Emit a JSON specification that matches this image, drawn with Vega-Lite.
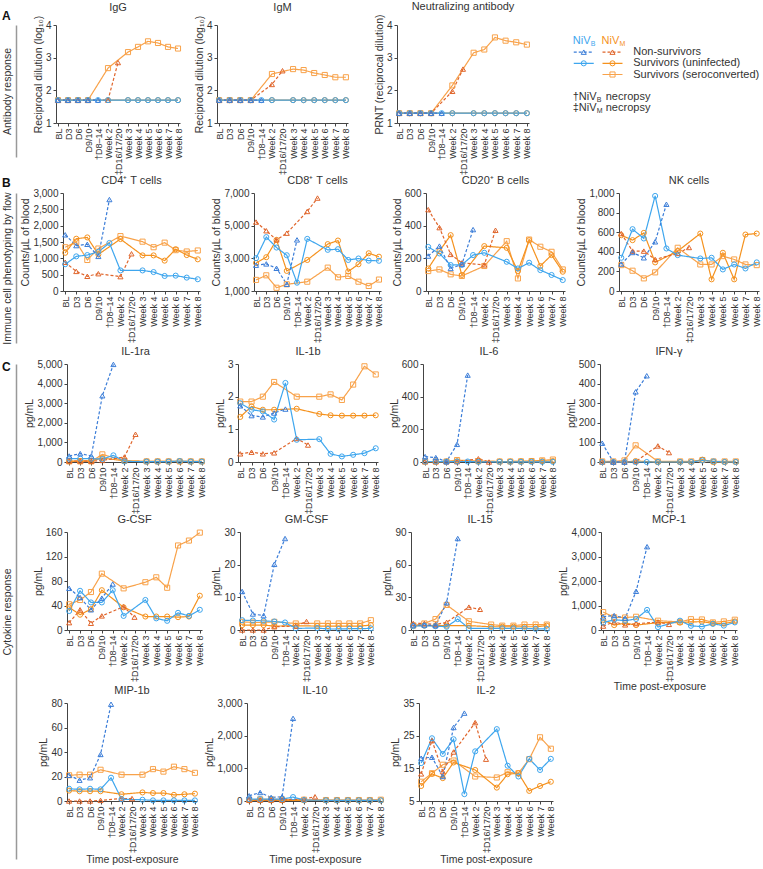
{
"$schema":"https://vega.github.io/schema/vega-lite/v6.json",
"padding":{"left":2,"top":0,"right":0,"bottom":0},
"config":{
 "font":"Liberation Sans",
 "view":{"stroke":null},
 "axis":{"labelFontSize":10,"titleFontSize":10.5,"labelColor":"#333","titleColor":"#333","titleFontWeight":"normal","domainColor":"#444","tickColor":"#444","tickSize":3,"grid":false,"labelPadding":2},
 "axisX":{"labelAngle":-90,"labelAlign":"right","labelBaseline":"middle","titlePadding":2,"labelFontSize":9},
 "axisY":{"titlePadding":2},
 "title":{"fontSize":11,"fontWeight":"normal","color":"#333","offset":2,"frame":"group"},
 "line":{"strokeWidth":1.2},
 "point":{"size":26,"filled":false,"strokeWidth":1,"opacity":1}
},
"data":{"values":[
{"c":"IgG","s":"MQ","t":"BL","v":1.7},{"c":"IgG","s":"MQ","t":"D3","v":1.7},{"c":"IgG","s":"MQ","t":"D6","v":1.7},{"c":"IgG","s":"MQ","t":"D9/10","v":1.7},{"c":"IgG","s":"MQ","t":"Week 2","v":2.68},{"c":"IgG","s":"MQ","t":"Week 3","v":3.17},{"c":"IgG","s":"MQ","t":"Week 4","v":3.33},{"c":"IgG","s":"MQ","t":"Week 5","v":3.5},{"c":"IgG","s":"MQ","t":"Week 6","v":3.45},{"c":"IgG","s":"MQ","t":"Week 7","v":3.33},{"c":"IgG","s":"MQ","t":"Week 8","v":3.28},
{"c":"IgG","s":"MU","t":"BL","v":1.7},{"c":"IgG","s":"MU","t":"D3","v":1.7},{"c":"IgG","s":"MU","t":"D6","v":1.7},{"c":"IgG","s":"MU","t":"D9/10","v":1.7},{"c":"IgG","s":"MU","t":"Week 2","v":1.7},{"c":"IgG","s":"MU","t":"Week 3","v":1.7},{"c":"IgG","s":"MU","t":"Week 4","v":1.7},{"c":"IgG","s":"MU","t":"Week 5","v":1.7},{"c":"IgG","s":"MU","t":"Week 6","v":1.7},{"c":"IgG","s":"MU","t":"Week 7","v":1.7},{"c":"IgG","s":"MU","t":"Week 8","v":1.7},
{"c":"IgG","s":"MN","t":"BL","v":1.7},{"c":"IgG","s":"MN","t":"D3","v":1.7},{"c":"IgG","s":"MN","t":"D6","v":1.7},{"c":"IgG","s":"MN","t":"D9/10","v":1.7},{"c":"IgG","s":"MN","t":"Week 2","v":1.7},{"c":"IgG","s":"MN","t":"‡D16/17/20","v":2.85},
{"c":"IgG","s":"BS","t":"BL","v":1.7},{"c":"IgG","s":"BS","t":"D3","v":1.7},{"c":"IgG","s":"BS","t":"D6","v":1.7},{"c":"IgG","s":"BS","t":"D9/10","v":1.7},{"c":"IgG","s":"BS","t":"†D8–14","v":1.7},{"c":"IgG","s":"BS","t":"Week 2","v":1.7},{"c":"IgG","s":"BS","t":"Week 3","v":1.7},{"c":"IgG","s":"BS","t":"Week 4","v":1.7},{"c":"IgG","s":"BS","t":"Week 5","v":1.7},{"c":"IgG","s":"BS","t":"Week 6","v":1.7},{"c":"IgG","s":"BS","t":"Week 7","v":1.7},{"c":"IgG","s":"BS","t":"Week 8","v":1.7},
{"c":"IgG","s":"BN","t":"BL","v":1.7},{"c":"IgG","s":"BN","t":"D3","v":1.7},{"c":"IgG","s":"BN","t":"D6","v":1.7},{"c":"IgG","s":"BN","t":"D9/10","v":1.7},{"c":"IgG","s":"BN","t":"†D8–14","v":1.7},

{"c":"IgM","s":"MQ","t":"BL","v":1.7},{"c":"IgM","s":"MQ","t":"D3","v":1.7},{"c":"IgM","s":"MQ","t":"D6","v":1.7},{"c":"IgM","s":"MQ","t":"D9/10","v":1.7},{"c":"IgM","s":"MQ","t":"Week 2","v":2.5},{"c":"IgM","s":"MQ","t":"Week 3","v":2.65},{"c":"IgM","s":"MQ","t":"Week 4","v":2.62},{"c":"IgM","s":"MQ","t":"Week 5","v":2.53},{"c":"IgM","s":"MQ","t":"Week 6","v":2.47},{"c":"IgM","s":"MQ","t":"Week 7","v":2.4},{"c":"IgM","s":"MQ","t":"Week 8","v":2.4},
{"c":"IgM","s":"MU","t":"BL","v":1.7},{"c":"IgM","s":"MU","t":"D3","v":1.7},{"c":"IgM","s":"MU","t":"D6","v":1.7},{"c":"IgM","s":"MU","t":"D9/10","v":1.7},{"c":"IgM","s":"MU","t":"Week 2","v":1.7},{"c":"IgM","s":"MU","t":"Week 3","v":1.7},{"c":"IgM","s":"MU","t":"Week 4","v":1.7},{"c":"IgM","s":"MU","t":"Week 5","v":1.7},{"c":"IgM","s":"MU","t":"Week 6","v":1.7},{"c":"IgM","s":"MU","t":"Week 7","v":1.7},{"c":"IgM","s":"MU","t":"Week 8","v":1.7},
{"c":"IgM","s":"MN","t":"BL","v":1.7},{"c":"IgM","s":"MN","t":"D3","v":1.7},{"c":"IgM","s":"MN","t":"D6","v":1.7},{"c":"IgM","s":"MN","t":"D9/10","v":1.7},{"c":"IgM","s":"MN","t":"Week 2","v":2.18},{"c":"IgM","s":"MN","t":"‡D16/17/20","v":2.6},
{"c":"IgM","s":"BS","t":"BL","v":1.7},{"c":"IgM","s":"BS","t":"D3","v":1.7},{"c":"IgM","s":"BS","t":"D6","v":1.7},{"c":"IgM","s":"BS","t":"D9/10","v":1.7},{"c":"IgM","s":"BS","t":"†D8–14","v":1.7},{"c":"IgM","s":"BS","t":"Week 2","v":1.7},{"c":"IgM","s":"BS","t":"Week 3","v":1.7},{"c":"IgM","s":"BS","t":"Week 4","v":1.7},{"c":"IgM","s":"BS","t":"Week 5","v":1.7},{"c":"IgM","s":"BS","t":"Week 6","v":1.7},{"c":"IgM","s":"BS","t":"Week 7","v":1.7},{"c":"IgM","s":"BS","t":"Week 8","v":1.7},
{"c":"IgM","s":"BN","t":"BL","v":1.7},{"c":"IgM","s":"BN","t":"D3","v":1.7},{"c":"IgM","s":"BN","t":"D6","v":1.7},{"c":"IgM","s":"BN","t":"D9/10","v":1.7},{"c":"IgM","s":"BN","t":"†D8–14","v":1.7},

{"c":"NAb","s":"MQ","t":"BL","v":1.3},{"c":"NAb","s":"MQ","t":"D3","v":1.3},{"c":"NAb","s":"MQ","t":"D6","v":1.3},{"c":"NAb","s":"MQ","t":"D9/10","v":1.3},{"c":"NAb","s":"MQ","t":"Week 2","v":2.15},{"c":"NAb","s":"MQ","t":"Week 3","v":3.15},{"c":"NAb","s":"MQ","t":"Week 4","v":3.25},{"c":"NAb","s":"MQ","t":"Week 5","v":3.62},{"c":"NAb","s":"MQ","t":"Week 6","v":3.52},{"c":"NAb","s":"MQ","t":"Week 7","v":3.47},{"c":"NAb","s":"MQ","t":"Week 8","v":3.4},
{"c":"NAb","s":"MU","t":"BL","v":1.3},{"c":"NAb","s":"MU","t":"D3","v":1.3},{"c":"NAb","s":"MU","t":"D6","v":1.3},{"c":"NAb","s":"MU","t":"D9/10","v":1.3},{"c":"NAb","s":"MU","t":"Week 2","v":1.3},{"c":"NAb","s":"MU","t":"Week 3","v":1.3},{"c":"NAb","s":"MU","t":"Week 4","v":1.3},{"c":"NAb","s":"MU","t":"Week 5","v":1.3},{"c":"NAb","s":"MU","t":"Week 6","v":1.3},{"c":"NAb","s":"MU","t":"Week 7","v":1.3},{"c":"NAb","s":"MU","t":"Week 8","v":1.3},
{"c":"NAb","s":"MN","t":"BL","v":1.3},{"c":"NAb","s":"MN","t":"D3","v":1.3},{"c":"NAb","s":"MN","t":"D6","v":1.3},{"c":"NAb","s":"MN","t":"D9/10","v":1.3},{"c":"NAb","s":"MN","t":"Week 2","v":1.97},{"c":"NAb","s":"MN","t":"‡D16/17/20","v":2.65},
{"c":"NAb","s":"BS","t":"BL","v":1.3},{"c":"NAb","s":"BS","t":"D3","v":1.3},{"c":"NAb","s":"BS","t":"D6","v":1.3},{"c":"NAb","s":"BS","t":"D9/10","v":1.3},{"c":"NAb","s":"BS","t":"†D8–14","v":1.3},{"c":"NAb","s":"BS","t":"Week 2","v":1.3},{"c":"NAb","s":"BS","t":"Week 3","v":1.3},{"c":"NAb","s":"BS","t":"Week 4","v":1.3},{"c":"NAb","s":"BS","t":"Week 5","v":1.3},{"c":"NAb","s":"BS","t":"Week 6","v":1.3},{"c":"NAb","s":"BS","t":"Week 7","v":1.3},{"c":"NAb","s":"BS","t":"Week 8","v":1.3},
{"c":"NAb","s":"BN","t":"BL","v":1.3},{"c":"NAb","s":"BN","t":"D3","v":1.3},{"c":"NAb","s":"BN","t":"D6","v":1.3},{"c":"NAb","s":"BN","t":"D9/10","v":1.3},{"c":"NAb","s":"BN","t":"†D8–14","v":1.3},

{"c":"CD4","s":"MQ","t":"BL","v":1340},{"c":"CD4","s":"MQ","t":"D3","v":1500},{"c":"CD4","s":"MQ","t":"D6","v":950},{"c":"CD4","s":"MQ","t":"D9/10","v":1300},{"c":"CD4","s":"MQ","t":"Week 2","v":1680},{"c":"CD4","s":"MQ","t":"Week 3","v":1510},{"c":"CD4","s":"MQ","t":"Week 4","v":1340},{"c":"CD4","s":"MQ","t":"Week 5","v":1480},{"c":"CD4","s":"MQ","t":"Week 6","v":1250},{"c":"CD4","s":"MQ","t":"Week 7","v":1210},{"c":"CD4","s":"MQ","t":"Week 8","v":1240},
{"c":"CD4","s":"MU","t":"BL","v":1170},{"c":"CD4","s":"MU","t":"D3","v":1600},{"c":"CD4","s":"MU","t":"D6","v":1640},{"c":"CD4","s":"MU","t":"D9/10","v":1120},{"c":"CD4","s":"MU","t":"Week 2","v":1590},{"c":"CD4","s":"MU","t":"Week 3","v":1090},{"c":"CD4","s":"MU","t":"Week 4","v":1090},{"c":"CD4","s":"MU","t":"Week 5","v":930},{"c":"CD4","s":"MU","t":"Week 6","v":1280},{"c":"CD4","s":"MU","t":"Week 7","v":1100},{"c":"CD4","s":"MU","t":"Week 8","v":970},
{"c":"CD4","s":"MN","t":"BL","v":880},{"c":"CD4","s":"MN","t":"D3","v":600},{"c":"CD4","s":"MN","t":"D6","v":450},{"c":"CD4","s":"MN","t":"D9/10","v":530},{"c":"CD4","s":"MN","t":"Week 2","v":440},{"c":"CD4","s":"MN","t":"‡D16/17/20","v":1140},
{"c":"CD4","s":"BS","t":"BL","v":820},{"c":"CD4","s":"BS","t":"D3","v":1060},{"c":"CD4","s":"BS","t":"D6","v":1100},{"c":"CD4","s":"BS","t":"D9/10","v":1200},{"c":"CD4","s":"BS","t":"†D8–14","v":1470},{"c":"CD4","s":"BS","t":"Week 2","v":630},{"c":"CD4","s":"BS","t":"Week 3","v":630},{"c":"CD4","s":"BS","t":"Week 4","v":580},{"c":"CD4","s":"BS","t":"Week 5","v":460},{"c":"CD4","s":"BS","t":"Week 6","v":470},{"c":"CD4","s":"BS","t":"Week 7","v":410},{"c":"CD4","s":"BS","t":"Week 8","v":360},
{"c":"CD4","s":"BN","t":"BL","v":1720},{"c":"CD4","s":"BN","t":"D3","v":1390},{"c":"CD4","s":"BN","t":"D6","v":1430},{"c":"CD4","s":"BN","t":"D9/10","v":1060},{"c":"CD4","s":"BN","t":"†D8–14","v":2800},

{"c":"CD8","s":"MQ","t":"BL","v":1680},{"c":"CD8","s":"MQ","t":"D3","v":1960},{"c":"CD8","s":"MQ","t":"D6","v":1200},{"c":"CD8","s":"MQ","t":"D9/10","v":1410},{"c":"CD8","s":"MQ","t":"Week 2","v":1570},{"c":"CD8","s":"MQ","t":"Week 3","v":2430},{"c":"CD8","s":"MQ","t":"Week 4","v":1840},{"c":"CD8","s":"MQ","t":"Week 5","v":1920},{"c":"CD8","s":"MQ","t":"Week 6","v":1570},{"c":"CD8","s":"MQ","t":"Week 7","v":1310},{"c":"CD8","s":"MQ","t":"Week 8","v":1700},
{"c":"CD8","s":"MU","t":"BL","v":2720},{"c":"CD8","s":"MU","t":"D3","v":3070},{"c":"CD8","s":"MU","t":"D6","v":4130},{"c":"CD8","s":"MU","t":"D9/10","v":2230},{"c":"CD8","s":"MU","t":"Week 2","v":2900},{"c":"CD8","s":"MU","t":"Week 3","v":3870},{"c":"CD8","s":"MU","t":"Week 4","v":4090},{"c":"CD8","s":"MU","t":"Week 5","v":2190},{"c":"CD8","s":"MU","t":"Week 6","v":2640},{"c":"CD8","s":"MU","t":"Week 7","v":3310},{"c":"CD8","s":"MU","t":"Week 8","v":3100},
{"c":"CD8","s":"MN","t":"BL","v":5220},{"c":"CD8","s":"MN","t":"D3","v":4690},{"c":"CD8","s":"MN","t":"D6","v":4130},{"c":"CD8","s":"MN","t":"D9/10","v":4540},{"c":"CD8","s":"MN","t":"Week 2","v":5870},{"c":"CD8","s":"MN","t":"‡D16/17/20","v":6690},
{"c":"CD8","s":"BS","t":"BL","v":3010},{"c":"CD8","s":"BS","t":"D3","v":4300},{"c":"CD8","s":"BS","t":"D6","v":3660},{"c":"CD8","s":"BS","t":"D9/10","v":3190},{"c":"CD8","s":"BS","t":"†D8–14","v":1510},{"c":"CD8","s":"BS","t":"Week 2","v":4190},{"c":"CD8","s":"BS","t":"Week 3","v":3520},{"c":"CD8","s":"BS","t":"Week 4","v":3560},{"c":"CD8","s":"BS","t":"Week 5","v":2900},{"c":"CD8","s":"BS","t":"Week 6","v":2990},{"c":"CD8","s":"BS","t":"Week 7","v":2860},{"c":"CD8","s":"BS","t":"Week 8","v":2850},
{"c":"CD8","s":"BN","t":"BL","v":2580},{"c":"CD8","s":"BN","t":"D3","v":2660},{"c":"CD8","s":"BN","t":"D6","v":2390},{"c":"CD8","s":"BN","t":"D9/10","v":1410},{"c":"CD8","s":"BN","t":"†D8–14","v":4130},

{"c":"CD20","s":"MQ","t":"BL","v":122},{"c":"CD20","s":"MQ","t":"D3","v":132},{"c":"CD20","s":"MQ","t":"D6","v":102},{"c":"CD20","s":"MQ","t":"D9/10","v":92},{"c":"CD20","s":"MQ","t":"Week 2","v":153},{"c":"CD20","s":"MQ","t":"Week 3","v":305},{"c":"CD20","s":"MQ","t":"Week 4","v":77},{"c":"CD20","s":"MQ","t":"Week 5","v":315},{"c":"CD20","s":"MQ","t":"Week 6","v":271},{"c":"CD20","s":"MQ","t":"Week 7","v":240},{"c":"CD20","s":"MQ","t":"Week 8","v":132},
{"c":"CD20","s":"MU","t":"BL","v":138},{"c":"CD20","s":"MU","t":"D3","v":244},{"c":"CD20","s":"MU","t":"D6","v":342},{"c":"CD20","s":"MU","t":"D9/10","v":98},{"c":"CD20","s":"MU","t":"Week 2","v":275},{"c":"CD20","s":"MU","t":"Week 3","v":264},{"c":"CD20","s":"MU","t":"Week 4","v":122},{"c":"CD20","s":"MU","t":"Week 5","v":311},{"c":"CD20","s":"MU","t":"Week 6","v":153},{"c":"CD20","s":"MU","t":"Week 7","v":220},{"c":"CD20","s":"MU","t":"Week 8","v":118},
{"c":"CD20","s":"MN","t":"BL","v":498},{"c":"CD20","s":"MN","t":"D3","v":388},{"c":"CD20","s":"MN","t":"D6","v":224},{"c":"CD20","s":"MN","t":"D9/10","v":172},{"c":"CD20","s":"MN","t":"Week 2","v":160},{"c":"CD20","s":"MN","t":"‡D16/17/20","v":372},
{"c":"CD20","s":"BS","t":"BL","v":270},{"c":"CD20","s":"BS","t":"D3","v":230},{"c":"CD20","s":"BS","t":"D6","v":159},{"c":"CD20","s":"BS","t":"D9/10","v":160},{"c":"CD20","s":"BS","t":"†D8–14","v":220},{"c":"CD20","s":"BS","t":"Week 2","v":234},{"c":"CD20","s":"BS","t":"Week 3","v":179},{"c":"CD20","s":"BS","t":"Week 4","v":138},{"c":"CD20","s":"BS","t":"Week 5","v":173},{"c":"CD20","s":"BS","t":"Week 6","v":128},{"c":"CD20","s":"BS","t":"Week 7","v":98},{"c":"CD20","s":"BS","t":"Week 8","v":67},
{"c":"CD20","s":"BN","t":"BL","v":214},{"c":"CD20","s":"BN","t":"D3","v":275},{"c":"CD20","s":"BN","t":"D6","v":138},{"c":"CD20","s":"BN","t":"D9/10","v":163},{"c":"CD20","s":"BN","t":"†D8–14","v":376},

{"c":"NK","s":"MQ","t":"BL","v":264},{"c":"NK","s":"MQ","t":"D3","v":207},{"c":"NK","s":"MQ","t":"D6","v":129},{"c":"NK","s":"MQ","t":"D9/10","v":190},{"c":"NK","s":"MQ","t":"Week 2","v":441},{"c":"NK","s":"MQ","t":"Week 3","v":271},{"c":"NK","s":"MQ","t":"Week 4","v":271},{"c":"NK","s":"MQ","t":"Week 5","v":356},{"c":"NK","s":"MQ","t":"Week 6","v":322},{"c":"NK","s":"MQ","t":"Week 7","v":271},{"c":"NK","s":"MQ","t":"Week 8","v":264},
{"c":"NK","s":"MU","t":"BL","v":569},{"c":"NK","s":"MU","t":"D3","v":519},{"c":"NK","s":"MU","t":"D6","v":593},{"c":"NK","s":"MU","t":"D9/10","v":292},{"c":"NK","s":"MU","t":"Week 2","v":407},{"c":"NK","s":"MU","t":"Week 3","v":586},{"c":"NK","s":"MU","t":"Week 4","v":119},{"c":"NK","s":"MU","t":"Week 5","v":390},{"c":"NK","s":"MU","t":"Week 6","v":119},{"c":"NK","s":"MU","t":"Week 7","v":576},{"c":"NK","s":"MU","t":"Week 8","v":586},
{"c":"NK","s":"MN","t":"BL","v":586},{"c":"NK","s":"MN","t":"D3","v":407},{"c":"NK","s":"MN","t":"D6","v":407},{"c":"NK","s":"MN","t":"D9/10","v":322},{"c":"NK","s":"MN","t":"Week 2","v":383},{"c":"NK","s":"MN","t":"‡D16/17/20","v":444},
{"c":"NK","s":"BS","t":"BL","v":339},{"c":"NK","s":"BS","t":"D3","v":631},{"c":"NK","s":"BS","t":"D6","v":536},{"c":"NK","s":"BS","t":"D9/10","v":970},{"c":"NK","s":"BS","t":"†D8–14","v":434},{"c":"NK","s":"BS","t":"Week 2","v":366},{"c":"NK","s":"BS","t":"Week 3","v":332},{"c":"NK","s":"BS","t":"Week 4","v":339},{"c":"NK","s":"BS","t":"Week 5","v":220},{"c":"NK","s":"BS","t":"Week 6","v":271},{"c":"NK","s":"BS","t":"Week 7","v":230},{"c":"NK","s":"BS","t":"Week 8","v":292},
{"c":"NK","s":"BN","t":"BL","v":275},{"c":"NK","s":"BN","t":"D3","v":393},{"c":"NK","s":"BN","t":"D6","v":339},{"c":"NK","s":"BN","t":"D9/10","v":502},{"c":"NK","s":"BN","t":"†D8–14","v":885},

{"c":"IL1ra","s":"MQ","t":"BL","v":30},{"c":"IL1ra","s":"MQ","t":"D3","v":30},{"c":"IL1ra","s":"MQ","t":"D6","v":30},{"c":"IL1ra","s":"MQ","t":"D9/10","v":390},{"c":"IL1ra","s":"MQ","t":"Week 2","v":60},{"c":"IL1ra","s":"MQ","t":"Week 3","v":30},{"c":"IL1ra","s":"MQ","t":"Week 4","v":30},{"c":"IL1ra","s":"MQ","t":"Week 5","v":30},{"c":"IL1ra","s":"MQ","t":"Week 6","v":30},{"c":"IL1ra","s":"MQ","t":"Week 7","v":30},{"c":"IL1ra","s":"MQ","t":"Week 8","v":30},
{"c":"IL1ra","s":"MU","t":"BL","v":40},{"c":"IL1ra","s":"MU","t":"D3","v":50},{"c":"IL1ra","s":"MU","t":"D6","v":60},{"c":"IL1ra","s":"MU","t":"D9/10","v":200},{"c":"IL1ra","s":"MU","t":"Week 2","v":60},{"c":"IL1ra","s":"MU","t":"Week 3","v":30},{"c":"IL1ra","s":"MU","t":"Week 4","v":30},{"c":"IL1ra","s":"MU","t":"Week 5","v":30},{"c":"IL1ra","s":"MU","t":"Week 6","v":30},{"c":"IL1ra","s":"MU","t":"Week 7","v":30},{"c":"IL1ra","s":"MU","t":"Week 8","v":30},
{"c":"IL1ra","s":"MN","t":"BL","v":50},{"c":"IL1ra","s":"MN","t":"D3","v":50},{"c":"IL1ra","s":"MN","t":"D6","v":40},{"c":"IL1ra","s":"MN","t":"D9/10","v":80},{"c":"IL1ra","s":"MN","t":"Week 2","v":256},{"c":"IL1ra","s":"MN","t":"‡D16/17/20","v":1416},
{"c":"IL1ra","s":"BS","t":"BL","v":170},{"c":"IL1ra","s":"BS","t":"D3","v":170},{"c":"IL1ra","s":"BS","t":"D6","v":170},{"c":"IL1ra","s":"BS","t":"D9/10","v":150},{"c":"IL1ra","s":"BS","t":"†D8–14","v":340},{"c":"IL1ra","s":"BS","t":"Week 2","v":30},{"c":"IL1ra","s":"BS","t":"Week 3","v":20},{"c":"IL1ra","s":"BS","t":"Week 4","v":20},{"c":"IL1ra","s":"BS","t":"Week 5","v":20},{"c":"IL1ra","s":"BS","t":"Week 6","v":50},{"c":"IL1ra","s":"BS","t":"Week 7","v":20},{"c":"IL1ra","s":"BS","t":"Week 8","v":20},
{"c":"IL1ra","s":"BN","t":"BL","v":307},{"c":"IL1ra","s":"BN","t":"D3","v":427},{"c":"IL1ra","s":"BN","t":"D6","v":307},{"c":"IL1ra","s":"BN","t":"D9/10","v":3380},{"c":"IL1ra","s":"BN","t":"†D8–14","v":4980},

{"c":"IL1b","s":"MQ","t":"BL","v":1.85},{"c":"IL1b","s":"MQ","t":"D3","v":1.85},{"c":"IL1b","s":"MQ","t":"D6","v":2.0},{"c":"IL1b","s":"MQ","t":"D9/10","v":2.45},{"c":"IL1b","s":"MQ","t":"Week 2","v":2.0},{"c":"IL1b","s":"MQ","t":"Week 3","v":2.0},{"c":"IL1b","s":"MQ","t":"Week 4","v":2.07},{"c":"IL1b","s":"MQ","t":"Week 5","v":1.9},{"c":"IL1b","s":"MQ","t":"Week 6","v":2.37},{"c":"IL1b","s":"MQ","t":"Week 7","v":2.93},{"c":"IL1b","s":"MQ","t":"Week 8","v":2.68},
{"c":"IL1b","s":"MU","t":"BL","v":1.38},{"c":"IL1b","s":"MU","t":"D3","v":1.7},{"c":"IL1b","s":"MU","t":"D6","v":1.6},{"c":"IL1b","s":"MU","t":"D9/10","v":1.6},{"c":"IL1b","s":"MU","t":"Week 2","v":1.63},{"c":"IL1b","s":"MU","t":"Week 3","v":1.47},{"c":"IL1b","s":"MU","t":"Week 4","v":1.43},{"c":"IL1b","s":"MU","t":"Week 5","v":1.42},{"c":"IL1b","s":"MU","t":"Week 6","v":1.42},{"c":"IL1b","s":"MU","t":"Week 7","v":1.42},{"c":"IL1b","s":"MU","t":"Week 8","v":1.43},
{"c":"IL1b","s":"MN","t":"BL","v":0.25},{"c":"IL1b","s":"MN","t":"D3","v":0.3},{"c":"IL1b","s":"MN","t":"D6","v":0.25},{"c":"IL1b","s":"MN","t":"D9/10","v":0.28},{"c":"IL1b","s":"MN","t":"Week 2","v":0.72},{"c":"IL1b","s":"MN","t":"‡D16/17/20","v":0.52},
{"c":"IL1b","s":"BS","t":"BL","v":1.8},{"c":"IL1b","s":"BS","t":"D3","v":1.6},{"c":"IL1b","s":"BS","t":"D6","v":1.55},{"c":"IL1b","s":"BS","t":"D9/10","v":1.3},{"c":"IL1b","s":"BS","t":"†D8–14","v":2.42},{"c":"IL1b","s":"BS","t":"Week 2","v":0.68},{"c":"IL1b","s":"BS","t":"Week 3","v":0.7},{"c":"IL1b","s":"BS","t":"Week 4","v":0.25},{"c":"IL1b","s":"BS","t":"Week 5","v":0.17},{"c":"IL1b","s":"BS","t":"Week 6","v":0.22},{"c":"IL1b","s":"BS","t":"Week 7","v":0.27},{"c":"IL1b","s":"BS","t":"Week 8","v":0.42},
{"c":"IL1b","s":"BN","t":"BL","v":1.72},{"c":"IL1b","s":"BN","t":"D3","v":1.42},{"c":"IL1b","s":"BN","t":"D6","v":1.38},{"c":"IL1b","s":"BN","t":"D9/10","v":1.5},{"c":"IL1b","s":"BN","t":"†D8–14","v":1.62},

{"c":"IL6","s":"MQ","t":"BL","v":3},{"c":"IL6","s":"MQ","t":"D3","v":3},{"c":"IL6","s":"MQ","t":"D6","v":3},{"c":"IL6","s":"MQ","t":"D9/10","v":12},{"c":"IL6","s":"MQ","t":"Week 2","v":5},{"c":"IL6","s":"MQ","t":"Week 3","v":3},{"c":"IL6","s":"MQ","t":"Week 4","v":3},{"c":"IL6","s":"MQ","t":"Week 5","v":4},{"c":"IL6","s":"MQ","t":"Week 6","v":6},{"c":"IL6","s":"MQ","t":"Week 7","v":10},{"c":"IL6","s":"MQ","t":"Week 8","v":15},
{"c":"IL6","s":"MU","t":"BL","v":3},{"c":"IL6","s":"MU","t":"D3","v":2},{"c":"IL6","s":"MU","t":"D6","v":3},{"c":"IL6","s":"MU","t":"D9/10","v":5},{"c":"IL6","s":"MU","t":"Week 2","v":4},{"c":"IL6","s":"MU","t":"Week 3","v":3},{"c":"IL6","s":"MU","t":"Week 4","v":3},{"c":"IL6","s":"MU","t":"Week 5","v":4},{"c":"IL6","s":"MU","t":"Week 6","v":5},{"c":"IL6","s":"MU","t":"Week 7","v":5},{"c":"IL6","s":"MU","t":"Week 8","v":6},
{"c":"IL6","s":"MN","t":"BL","v":2},{"c":"IL6","s":"MN","t":"D3","v":2},{"c":"IL6","s":"MN","t":"D6","v":2},{"c":"IL6","s":"MN","t":"D9/10","v":2},{"c":"IL6","s":"MN","t":"Week 2","v":20},{"c":"IL6","s":"MN","t":"‡D16/17/20","v":0},
{"c":"IL6","s":"BS","t":"BL","v":3},{"c":"IL6","s":"BS","t":"D3","v":3},{"c":"IL6","s":"BS","t":"D6","v":2},{"c":"IL6","s":"BS","t":"D9/10","v":3},{"c":"IL6","s":"BS","t":"†D8–14","v":3},{"c":"IL6","s":"BS","t":"Week 2","v":1},{"c":"IL6","s":"BS","t":"Week 3","v":1},{"c":"IL6","s":"BS","t":"Week 4","v":1},{"c":"IL6","s":"BS","t":"Week 5","v":1},{"c":"IL6","s":"BS","t":"Week 6","v":1},{"c":"IL6","s":"BS","t":"Week 7","v":1},{"c":"IL6","s":"BS","t":"Week 8","v":1},
{"c":"IL6","s":"BN","t":"BL","v":33},{"c":"IL6","s":"BN","t":"D3","v":27},{"c":"IL6","s":"BN","t":"D6","v":2},{"c":"IL6","s":"BN","t":"D9/10","v":108},{"c":"IL6","s":"BN","t":"†D8–14","v":532},

{"c":"IFNg","s":"MQ","t":"BL","v":3},{"c":"IFNg","s":"MQ","t":"D3","v":3},{"c":"IFNg","s":"MQ","t":"D6","v":8},{"c":"IFNg","s":"MQ","t":"D9/10","v":85},{"c":"IFNg","s":"MQ","t":"Week 2","v":3},{"c":"IFNg","s":"MQ","t":"Week 3","v":3},{"c":"IFNg","s":"MQ","t":"Week 4","v":3},{"c":"IFNg","s":"MQ","t":"Week 5","v":10},{"c":"IFNg","s":"MQ","t":"Week 6","v":3},{"c":"IFNg","s":"MQ","t":"Week 7","v":3},{"c":"IFNg","s":"MQ","t":"Week 8","v":3},
{"c":"IFNg","s":"MU","t":"BL","v":0},{"c":"IFNg","s":"MU","t":"D3","v":0},{"c":"IFNg","s":"MU","t":"D6","v":0},{"c":"IFNg","s":"MU","t":"D9/10","v":5},{"c":"IFNg","s":"MU","t":"Week 2","v":0},{"c":"IFNg","s":"MU","t":"Week 3","v":0},{"c":"IFNg","s":"MU","t":"Week 4","v":0},{"c":"IFNg","s":"MU","t":"Week 5","v":12},{"c":"IFNg","s":"MU","t":"Week 6","v":0},{"c":"IFNg","s":"MU","t":"Week 7","v":0},{"c":"IFNg","s":"MU","t":"Week 8","v":0},
{"c":"IFNg","s":"MN","t":"BL","v":0},{"c":"IFNg","s":"MN","t":"D3","v":0},{"c":"IFNg","s":"MN","t":"D6","v":0},{"c":"IFNg","s":"MN","t":"D9/10","v":2},{"c":"IFNg","s":"MN","t":"Week 2","v":82},{"c":"IFNg","s":"MN","t":"‡D16/17/20","v":48},
{"c":"IFNg","s":"BS","t":"BL","v":0},{"c":"IFNg","s":"BS","t":"D3","v":0},{"c":"IFNg","s":"BS","t":"D6","v":0},{"c":"IFNg","s":"BS","t":"D9/10","v":0},{"c":"IFNg","s":"BS","t":"†D8–14","v":0},{"c":"IFNg","s":"BS","t":"Week 2","v":0},{"c":"IFNg","s":"BS","t":"Week 3","v":0},{"c":"IFNg","s":"BS","t":"Week 4","v":0},{"c":"IFNg","s":"BS","t":"Week 5","v":8},{"c":"IFNg","s":"BS","t":"Week 6","v":3},{"c":"IFNg","s":"BS","t":"Week 7","v":0},{"c":"IFNg","s":"BS","t":"Week 8","v":0},
{"c":"IFNg","s":"BN","t":"BL","v":96},{"c":"IFNg","s":"BN","t":"D3","v":0},{"c":"IFNg","s":"BN","t":"D6","v":0},{"c":"IFNg","s":"BN","t":"D9/10","v":358},{"c":"IFNg","s":"BN","t":"†D8–14","v":440},

{"c":"GCSF","s":"MQ","t":"BL","v":42},{"c":"GCSF","s":"MQ","t":"D3","v":49},{"c":"GCSF","s":"MQ","t":"D6","v":62},{"c":"GCSF","s":"MQ","t":"D9/10","v":92},{"c":"GCSF","s":"MQ","t":"Week 2","v":68},{"c":"GCSF","s":"MQ","t":"Week 3","v":78},{"c":"GCSF","s":"MQ","t":"Week 4","v":86},{"c":"GCSF","s":"MQ","t":"Week 5","v":69},{"c":"GCSF","s":"MQ","t":"Week 6","v":138},{"c":"GCSF","s":"MQ","t":"Week 7","v":146},{"c":"GCSF","s":"MQ","t":"Week 8","v":159},
{"c":"GCSF","s":"MU","t":"BL","v":37},{"c":"GCSF","s":"MU","t":"D3","v":25},{"c":"GCSF","s":"MU","t":"D6","v":34},{"c":"GCSF","s":"MU","t":"D9/10","v":65},{"c":"GCSF","s":"MU","t":"Week 2","v":37},{"c":"GCSF","s":"MU","t":"Week 3","v":22},{"c":"GCSF","s":"MU","t":"Week 4","v":22},{"c":"GCSF","s":"MU","t":"Week 5","v":22},{"c":"GCSF","s":"MU","t":"Week 6","v":21},{"c":"GCSF","s":"MU","t":"Week 7","v":22},{"c":"GCSF","s":"MU","t":"Week 8","v":56},
{"c":"GCSF","s":"MN","t":"BL","v":12},{"c":"GCSF","s":"MN","t":"D3","v":33},{"c":"GCSF","s":"MN","t":"D6","v":11},{"c":"GCSF","s":"MN","t":"D9/10","v":23},{"c":"GCSF","s":"MN","t":"Week 2","v":38},{"c":"GCSF","s":"MN","t":"‡D16/17/20","v":21},
{"c":"GCSF","s":"BS","t":"BL","v":31},{"c":"GCSF","s":"BS","t":"D3","v":64},{"c":"GCSF","s":"BS","t":"D6","v":45},{"c":"GCSF","s":"BS","t":"D9/10","v":45},{"c":"GCSF","s":"BS","t":"†D8–14","v":65},{"c":"GCSF","s":"BS","t":"Week 2","v":23},{"c":"GCSF","s":"BS","t":"Week 3","v":49},{"c":"GCSF","s":"BS","t":"Week 4","v":19},{"c":"GCSF","s":"BS","t":"Week 5","v":15},{"c":"GCSF","s":"BS","t":"Week 6","v":28},{"c":"GCSF","s":"BS","t":"Week 7","v":23},{"c":"GCSF","s":"BS","t":"Week 8","v":33},
{"c":"GCSF","s":"BN","t":"BL","v":68},{"c":"GCSF","s":"BN","t":"D3","v":53},{"c":"GCSF","s":"BN","t":"D6","v":33},{"c":"GCSF","s":"BN","t":"D9/10","v":52},{"c":"GCSF","s":"BN","t":"†D8–14","v":75},

{"c":"GMCSF","s":"MQ","t":"BL","v":2.5},{"c":"GMCSF","s":"MQ","t":"D3","v":2.3},{"c":"GMCSF","s":"MQ","t":"D6","v":2.3},{"c":"GMCSF","s":"MQ","t":"D9/10","v":2.5},{"c":"GMCSF","s":"MQ","t":"Week 2","v":2.0},{"c":"GMCSF","s":"MQ","t":"Week 3","v":2.0},{"c":"GMCSF","s":"MQ","t":"Week 4","v":2.0},{"c":"GMCSF","s":"MQ","t":"Week 5","v":2.0},{"c":"GMCSF","s":"MQ","t":"Week 6","v":2.0},{"c":"GMCSF","s":"MQ","t":"Week 7","v":2.0},{"c":"GMCSF","s":"MQ","t":"Week 8","v":3.0},
{"c":"GMCSF","s":"MU","t":"BL","v":1.5},{"c":"GMCSF","s":"MU","t":"D3","v":1.5},{"c":"GMCSF","s":"MU","t":"D6","v":1.5},{"c":"GMCSF","s":"MU","t":"D9/10","v":1.2},{"c":"GMCSF","s":"MU","t":"Week 2","v":1.3},{"c":"GMCSF","s":"MU","t":"Week 3","v":1.2},{"c":"GMCSF","s":"MU","t":"Week 4","v":1.2},{"c":"GMCSF","s":"MU","t":"Week 5","v":1.2},{"c":"GMCSF","s":"MU","t":"Week 6","v":1.2},{"c":"GMCSF","s":"MU","t":"Week 7","v":1.2},{"c":"GMCSF","s":"MU","t":"Week 8","v":1.5},
{"c":"GMCSF","s":"MN","t":"BL","v":0},{"c":"GMCSF","s":"MN","t":"D3","v":0},{"c":"GMCSF","s":"MN","t":"D6","v":0},{"c":"GMCSF","s":"MN","t":"D9/10","v":1.0},{"c":"GMCSF","s":"MN","t":"Week 2","v":1.2},{"c":"GMCSF","s":"MN","t":"‡D16/17/20","v":2.6},
{"c":"GMCSF","s":"BS","t":"BL","v":3.0},{"c":"GMCSF","s":"BS","t":"D3","v":2.9},{"c":"GMCSF","s":"BS","t":"D6","v":2.8},{"c":"GMCSF","s":"BS","t":"D9/10","v":2.6},{"c":"GMCSF","s":"BS","t":"†D8–14","v":2.3},{"c":"GMCSF","s":"BS","t":"Week 2","v":0.5},{"c":"GMCSF","s":"BS","t":"Week 3","v":0.6},{"c":"GMCSF","s":"BS","t":"Week 4","v":0.3},{"c":"GMCSF","s":"BS","t":"Week 5","v":0.3},{"c":"GMCSF","s":"BS","t":"Week 6","v":0.4},{"c":"GMCSF","s":"BS","t":"Week 7","v":0.4},{"c":"GMCSF","s":"BS","t":"Week 8","v":0.5},
{"c":"GMCSF","s":"BN","t":"BL","v":11.8},{"c":"GMCSF","s":"BN","t":"D3","v":4.9},{"c":"GMCSF","s":"BN","t":"D6","v":4.4},{"c":"GMCSF","s":"BN","t":"D9/10","v":20.1},{"c":"GMCSF","s":"BN","t":"†D8–14","v":28},

{"c":"IL15","s":"MQ","t":"BL","v":4},{"c":"IL15","s":"MQ","t":"D3","v":6},{"c":"IL15","s":"MQ","t":"D6","v":10},{"c":"IL15","s":"MQ","t":"D9/10","v":23},{"c":"IL15","s":"MQ","t":"Week 2","v":8},{"c":"IL15","s":"MQ","t":"Week 3","v":5},{"c":"IL15","s":"MQ","t":"Week 4","v":4},{"c":"IL15","s":"MQ","t":"Week 5","v":4},{"c":"IL15","s":"MQ","t":"Week 6","v":5},{"c":"IL15","s":"MQ","t":"Week 7","v":5},{"c":"IL15","s":"MQ","t":"Week 8","v":5},
{"c":"IL15","s":"MU","t":"BL","v":4},{"c":"IL15","s":"MU","t":"D3","v":4},{"c":"IL15","s":"MU","t":"D6","v":4},{"c":"IL15","s":"MU","t":"D9/10","v":4},{"c":"IL15","s":"MU","t":"Week 2","v":4},{"c":"IL15","s":"MU","t":"Week 3","v":3},{"c":"IL15","s":"MU","t":"Week 4","v":3},{"c":"IL15","s":"MU","t":"Week 5","v":3},{"c":"IL15","s":"MU","t":"Week 6","v":3},{"c":"IL15","s":"MU","t":"Week 7","v":3},{"c":"IL15","s":"MU","t":"Week 8","v":4},
{"c":"IL15","s":"MN","t":"BL","v":6},{"c":"IL15","s":"MN","t":"D3","v":6},{"c":"IL15","s":"MN","t":"D6","v":5},{"c":"IL15","s":"MN","t":"D9/10","v":7},{"c":"IL15","s":"MN","t":"Week 2","v":21},{"c":"IL15","s":"MN","t":"‡D16/17/20","v":19},
{"c":"IL15","s":"BS","t":"BL","v":3.5},{"c":"IL15","s":"BS","t":"D3","v":4},{"c":"IL15","s":"BS","t":"D6","v":3.5},{"c":"IL15","s":"BS","t":"D9/10","v":3},{"c":"IL15","s":"BS","t":"†D8–14","v":10},{"c":"IL15","s":"BS","t":"Week 2","v":1.5},{"c":"IL15","s":"BS","t":"Week 3","v":1.5},{"c":"IL15","s":"BS","t":"Week 4","v":1.5},{"c":"IL15","s":"BS","t":"Week 5","v":1.5},{"c":"IL15","s":"BS","t":"Week 6","v":1.5},{"c":"IL15","s":"BS","t":"Week 7","v":1},{"c":"IL15","s":"BS","t":"Week 8","v":1},
{"c":"IL15","s":"BN","t":"BL","v":4.6},{"c":"IL15","s":"BN","t":"D3","v":4.6},{"c":"IL15","s":"BN","t":"D6","v":4},{"c":"IL15","s":"BN","t":"D9/10","v":25},{"c":"IL15","s":"BN","t":"†D8–14","v":84},

{"c":"MCP1","s":"MQ","t":"BL","v":730},{"c":"MCP1","s":"MQ","t":"D3","v":520},{"c":"MCP1","s":"MQ","t":"D6","v":510},{"c":"MCP1","s":"MQ","t":"D9/10","v":540},{"c":"MCP1","s":"MQ","t":"Week 2","v":380},{"c":"MCP1","s":"MQ","t":"Week 3","v":330},{"c":"MCP1","s":"MQ","t":"Week 4","v":440},{"c":"MCP1","s":"MQ","t":"Week 5","v":430},{"c":"MCP1","s":"MQ","t":"Week 6","v":310},{"c":"MCP1","s":"MQ","t":"Week 7","v":350},{"c":"MCP1","s":"MQ","t":"Week 8","v":420},
{"c":"MCP1","s":"MU","t":"BL","v":420},{"c":"MCP1","s":"MU","t":"D3","v":200},{"c":"MCP1","s":"MU","t":"D6","v":280},{"c":"MCP1","s":"MU","t":"D9/10","v":200},{"c":"MCP1","s":"MU","t":"Week 2","v":300},{"c":"MCP1","s":"MU","t":"Week 3","v":300},{"c":"MCP1","s":"MU","t":"Week 4","v":330},{"c":"MCP1","s":"MU","t":"Week 5","v":340},{"c":"MCP1","s":"MU","t":"Week 6","v":270},{"c":"MCP1","s":"MU","t":"Week 7","v":260},{"c":"MCP1","s":"MU","t":"Week 8","v":350},
{"c":"MCP1","s":"MN","t":"BL","v":160},{"c":"MCP1","s":"MN","t":"D3","v":330},{"c":"MCP1","s":"MN","t":"D6","v":210},{"c":"MCP1","s":"MN","t":"D9/10","v":260},{"c":"MCP1","s":"MN","t":"Week 2","v":320},{"c":"MCP1","s":"MN","t":"‡D16/17/20","v":230},
{"c":"MCP1","s":"BS","t":"BL","v":300},{"c":"MCP1","s":"BS","t":"D3","v":420},{"c":"MCP1","s":"BS","t":"D6","v":380},{"c":"MCP1","s":"BS","t":"D9/10","v":450},{"c":"MCP1","s":"BS","t":"†D8–14","v":820},{"c":"MCP1","s":"BS","t":"Week 2","v":120},{"c":"MCP1","s":"BS","t":"Week 3","v":380},{"c":"MCP1","s":"BS","t":"Week 4","v":170},{"c":"MCP1","s":"BS","t":"Week 5","v":140},{"c":"MCP1","s":"BS","t":"Week 6","v":250},{"c":"MCP1","s":"BS","t":"Week 7","v":180},{"c":"MCP1","s":"BS","t":"Week 8","v":310},
{"c":"MCP1","s":"BN","t":"BL","v":540},{"c":"MCP1","s":"BN","t":"D3","v":590},{"c":"MCP1","s":"BN","t":"D6","v":480},{"c":"MCP1","s":"BN","t":"D9/10","v":1580},{"c":"MCP1","s":"BN","t":"†D8–14","v":3400},

{"c":"MIP1b","s":"MQ","t":"BL","v":21},{"c":"MIP1b","s":"MQ","t":"D3","v":21.5},{"c":"MIP1b","s":"MQ","t":"D6","v":21.5},{"c":"MIP1b","s":"MQ","t":"D9/10","v":25.5},{"c":"MIP1b","s":"MQ","t":"Week 2","v":21.5},{"c":"MIP1b","s":"MQ","t":"Week 3","v":21.5},{"c":"MIP1b","s":"MQ","t":"Week 4","v":26},{"c":"MIP1b","s":"MQ","t":"Week 5","v":24},{"c":"MIP1b","s":"MQ","t":"Week 6","v":28},{"c":"MIP1b","s":"MQ","t":"Week 7","v":26},{"c":"MIP1b","s":"MQ","t":"Week 8","v":23},
{"c":"MIP1b","s":"MU","t":"BL","v":8.5},{"c":"MIP1b","s":"MU","t":"D3","v":8},{"c":"MIP1b","s":"MU","t":"D6","v":8},{"c":"MIP1b","s":"MU","t":"D9/10","v":8},{"c":"MIP1b","s":"MU","t":"Week 2","v":5.5},{"c":"MIP1b","s":"MU","t":"Week 3","v":7},{"c":"MIP1b","s":"MU","t":"Week 4","v":6.5},{"c":"MIP1b","s":"MU","t":"Week 5","v":6.5},{"c":"MIP1b","s":"MU","t":"Week 6","v":5},{"c":"MIP1b","s":"MU","t":"Week 7","v":5.5},{"c":"MIP1b","s":"MU","t":"Week 8","v":6},
{"c":"MIP1b","s":"MN","t":"BL","v":0},{"c":"MIP1b","s":"MN","t":"D3","v":0},{"c":"MIP1b","s":"MN","t":"D6","v":0},{"c":"MIP1b","s":"MN","t":"D9/10","v":0.5},{"c":"MIP1b","s":"MN","t":"Week 2","v":2},{"c":"MIP1b","s":"MN","t":"‡D16/17/20","v":2},
{"c":"MIP1b","s":"BS","t":"BL","v":10},{"c":"MIP1b","s":"BS","t":"D3","v":9.5},{"c":"MIP1b","s":"BS","t":"D6","v":10},{"c":"MIP1b","s":"BS","t":"D9/10","v":9.5},{"c":"MIP1b","s":"BS","t":"†D8–14","v":19},{"c":"MIP1b","s":"BS","t":"Week 2","v":1.5},{"c":"MIP1b","s":"BS","t":"Week 3","v":1},{"c":"MIP1b","s":"BS","t":"Week 4","v":0.5},{"c":"MIP1b","s":"BS","t":"Week 5","v":0.5},{"c":"MIP1b","s":"BS","t":"Week 6","v":0.5},{"c":"MIP1b","s":"BS","t":"Week 7","v":0.5},{"c":"MIP1b","s":"BS","t":"Week 8","v":0.5},
{"c":"MIP1b","s":"BN","t":"BL","v":21},{"c":"MIP1b","s":"BN","t":"D3","v":17},{"c":"MIP1b","s":"BN","t":"D6","v":19},{"c":"MIP1b","s":"BN","t":"D9/10","v":38},{"c":"MIP1b","s":"BN","t":"†D8–14","v":79},

{"c":"IL10","s":"MQ","t":"BL","v":40},{"c":"IL10","s":"MQ","t":"D3","v":50},{"c":"IL10","s":"MQ","t":"D6","v":50},{"c":"IL10","s":"MQ","t":"D9/10","v":50},{"c":"IL10","s":"MQ","t":"Week 2","v":40},{"c":"IL10","s":"MQ","t":"Week 3","v":30},{"c":"IL10","s":"MQ","t":"Week 4","v":30},{"c":"IL10","s":"MQ","t":"Week 5","v":30},{"c":"IL10","s":"MQ","t":"Week 6","v":30},{"c":"IL10","s":"MQ","t":"Week 7","v":30},{"c":"IL10","s":"MQ","t":"Week 8","v":40},
{"c":"IL10","s":"MU","t":"BL","v":20},{"c":"IL10","s":"MU","t":"D3","v":20},{"c":"IL10","s":"MU","t":"D6","v":20},{"c":"IL10","s":"MU","t":"D9/10","v":20},{"c":"IL10","s":"MU","t":"Week 2","v":20},{"c":"IL10","s":"MU","t":"Week 3","v":20},{"c":"IL10","s":"MU","t":"Week 4","v":20},{"c":"IL10","s":"MU","t":"Week 5","v":20},{"c":"IL10","s":"MU","t":"Week 6","v":20},{"c":"IL10","s":"MU","t":"Week 7","v":20},{"c":"IL10","s":"MU","t":"Week 8","v":20},
{"c":"IL10","s":"MN","t":"BL","v":30},{"c":"IL10","s":"MN","t":"D3","v":30},{"c":"IL10","s":"MN","t":"D6","v":30},{"c":"IL10","s":"MN","t":"D9/10","v":30},{"c":"IL10","s":"MN","t":"Week 2","v":60},{"c":"IL10","s":"MN","t":"‡D16/17/20","v":130},
{"c":"IL10","s":"BS","t":"BL","v":60},{"c":"IL10","s":"BS","t":"D3","v":60},{"c":"IL10","s":"BS","t":"D6","v":60},{"c":"IL10","s":"BS","t":"D9/10","v":60},{"c":"IL10","s":"BS","t":"†D8–14","v":120},{"c":"IL10","s":"BS","t":"Week 2","v":30},{"c":"IL10","s":"BS","t":"Week 3","v":20},{"c":"IL10","s":"BS","t":"Week 4","v":20},{"c":"IL10","s":"BS","t":"Week 5","v":20},{"c":"IL10","s":"BS","t":"Week 6","v":20},{"c":"IL10","s":"BS","t":"Week 7","v":20},{"c":"IL10","s":"BS","t":"Week 8","v":20},
{"c":"IL10","s":"BN","t":"BL","v":160},{"c":"IL10","s":"BN","t":"D3","v":260},{"c":"IL10","s":"BN","t":"D6","v":110},{"c":"IL10","s":"BN","t":"D9/10","v":130},{"c":"IL10","s":"BN","t":"†D8–14","v":2530},

{"c":"IL2","s":"MQ","t":"BL","v":10.9},{"c":"IL2","s":"MQ","t":"D3","v":13.5},{"c":"IL2","s":"MQ","t":"D6","v":16.1},{"c":"IL2","s":"MQ","t":"D9/10","v":17.4},{"c":"IL2","s":"MQ","t":"Week 2","v":12.5},{"c":"IL2","s":"MQ","t":"Week 3","v":12.2},{"c":"IL2","s":"MQ","t":"Week 4","v":13.8},{"c":"IL2","s":"MQ","t":"Week 5","v":13.5},{"c":"IL2","s":"MQ","t":"Week 6","v":17.8},{"c":"IL2","s":"MQ","t":"Week 7","v":24.5},{"c":"IL2","s":"MQ","t":"Week 8","v":21},
{"c":"IL2","s":"MU","t":"BL","v":9.6},{"c":"IL2","s":"MU","t":"D3","v":13.3},{"c":"IL2","s":"MU","t":"D6","v":12},{"c":"IL2","s":"MU","t":"D9/10","v":16.8},{"c":"IL2","s":"MU","t":"Week 2","v":14.5},{"c":"IL2","s":"MU","t":"Week 3","v":9.1},{"c":"IL2","s":"MU","t":"Week 4","v":13.2},{"c":"IL2","s":"MU","t":"Week 5","v":13.5},{"c":"IL2","s":"MU","t":"Week 6","v":8.1},{"c":"IL2","s":"MU","t":"Week 7","v":9.6},{"c":"IL2","s":"MU","t":"Week 8","v":10.9},
{"c":"IL2","s":"MN","t":"BL","v":13.3},{"c":"IL2","s":"MN","t":"D3","v":23.5},{"c":"IL2","s":"MN","t":"D6","v":14.0},{"c":"IL2","s":"MN","t":"D9/10","v":20},{"c":"IL2","s":"MN","t":"Week 2","v":29},{"c":"IL2","s":"MN","t":"‡D16/17/20","v":17.8},
{"c":"IL2","s":"BS","t":"BL","v":16.6},{"c":"IL2","s":"BS","t":"D3","v":24.2},{"c":"IL2","s":"BS","t":"D6","v":19.4},{"c":"IL2","s":"BS","t":"D9/10","v":23.9},{"c":"IL2","s":"BS","t":"†D8–14","v":7.1},{"c":"IL2","s":"BS","t":"Week 2","v":20.2},{"c":"IL2","s":"BS","t":"Week 3","v":27},{"c":"IL2","s":"BS","t":"Week 4","v":15.8},{"c":"IL2","s":"BS","t":"Week 5","v":12.5},{"c":"IL2","s":"BS","t":"Week 6","v":17.9},{"c":"IL2","s":"BS","t":"Week 7","v":14.5},{"c":"IL2","s":"BS","t":"Week 8","v":17.9},
{"c":"IL2","s":"BN","t":"BL","v":18.1},{"c":"IL2","s":"BN","t":"D3","v":18.4},{"c":"IL2","s":"BN","t":"D6","v":12.5},{"c":"IL2","s":"BN","t":"D9/10","v":27.5},{"c":"IL2","s":"BN","t":"†D8–14","v":31.9}
]},
"spacing":0,
"vconcat":[
 {"hconcat":[
  {"hconcat":[
   {"width":5,"height":132,"data":{"values":[{}]},"title":{"text":"A","anchor":"start","frame":"bounds","fontWeight":"bold","fontSize":12,"color":"#111","offset":2},"mark":{"type":"point","opacity":0},"encoding":{"y":{"datum":0,"type":"quantitative","scale":{"domain":[0,1]},"axis":{"title":"Antibody response","labels":false,"ticks":false,"domainColor":"#999","domainWidth":1.5,"titleFontSize":10.5,"titlePadding":4}}}},
   {"title":"IgG","width":124,"height":98,"transform":[{"filter":"datum.c==='IgG'"}],
    "encoding":{"x":{"field":"t","type":"ordinal","sort":["BL","D3","D6","D9/10","†D8–14","Week 2","‡D16/17/20","Week 3","Week 4","Week 5","Week 6","Week 7","Week 8"],"scale":{"padding":0.2},"axis":{"title":null}},
     "y":{"field":"v","type":"quantitative","scale":{"domain":[1,4],"nice":false},"axis":{"values":[1,2,3,4],"title":"Reciprocal dilution (log₁₀)"}},
     "color":{"field":"s","type":"nominal","scale":{"domain":["BN","BS","MN","MU","MQ"],"range":["#3b7dd8","#3ea6ee","#e0652b","#f5921e","#f8a24a"]},"legend":null}},
    "layer":[{"mark":"line","encoding":{"strokeDash":{"field":"s","type":"nominal","scale":{"domain":["BN","BS","MN","MU","MQ"],"range":[[3,2],[1,0],[3,2],[1,0],[1,0]]},"legend":null}}},
             {"mark":"point","encoding":{"shape":{"field":"s","type":"nominal","scale":{"domain":["BN","BS","MN","MU","MQ"],"range":["triangle-up","circle","triangle-up","circle","square"]},"legend":null}}}]},
   {"title":"IgM","width":131,"height":98,"transform":[{"filter":"datum.c==='IgM'"}],
    "encoding":{"x":{"field":"t","type":"ordinal","sort":["BL","D3","D6","D9/10","†D8–14","Week 2","‡D16/17/20","Week 3","Week 4","Week 5","Week 6","Week 7","Week 8"],"scale":{"padding":0.2},"axis":{"title":null}},
     "y":{"field":"v","type":"quantitative","scale":{"domain":[1,4],"nice":false},"axis":{"values":[1,2,3,4],"title":"Reciprocal dilution (log₁₀)"}},
     "color":{"field":"s","type":"nominal","scale":{"domain":["BN","BS","MN","MU","MQ"],"range":["#3b7dd8","#3ea6ee","#e0652b","#f5921e","#f8a24a"]},"legend":null}},
    "layer":[{"mark":"line","encoding":{"strokeDash":{"field":"s","type":"nominal","scale":{"domain":["BN","BS","MN","MU","MQ"],"range":[[3,2],[1,0],[3,2],[1,0],[1,0]]},"legend":null}}},
             {"mark":"point","encoding":{"shape":{"field":"s","type":"nominal","scale":{"domain":["BN","BS","MN","MU","MQ"],"range":["triangle-up","circle","triangle-up","circle","square"]},"legend":null}}}]}
  ],"spacing":11},
  {"title":"Neutralizing antibody","width":132,"height":98,"transform":[{"filter":"datum.c==='NAb'"}],
   "encoding":{"x":{"field":"t","type":"ordinal","sort":["BL","D3","D6","D9/10","†D8–14","Week 2","‡D16/17/20","Week 3","Week 4","Week 5","Week 6","Week 7","Week 8"],"scale":{"padding":0.2},"axis":{"title":null}},
    "y":{"field":"v","type":"quantitative","scale":{"domain":[1,4],"nice":false},"axis":{"values":[1,2,3,4],"title":"PRNT (reciprocal dilution)"}},
    "color":{"field":"s","type":"nominal","scale":{"domain":["BN","BS","MN","MU","MQ"],"range":["#3b7dd8","#3ea6ee","#e0652b","#f5921e","#f8a24a"]},"legend":null}},
   "layer":[{"mark":"line","encoding":{"strokeDash":{"field":"s","type":"nominal","scale":{"domain":["BN","BS","MN","MU","MQ"],"range":[[3,2],[1,0],[3,2],[1,0],[1,0]]},"legend":null}}},
            {"mark":"point","encoding":{"shape":{"field":"s","type":"nominal","scale":{"domain":["BN","BS","MN","MU","MQ"],"range":["triangle-up","circle","triangle-up","circle","square"]},"legend":null}}}]},
  {"width":115,"height":100,
   "data":{"values":[
    {"kind":"sym","col":"B","row":"r1","s":"BN"},{"kind":"sym","col":"B","row":"r2","s":"BS"},
    {"kind":"sym","col":"M","row":"r1","s":"MN"},{"kind":"sym","col":"M","row":"r2","s":"MU"},{"kind":"sym","col":"M","row":"r3","s":"MQ"},
    {"kind":"lab","col":"L","row":"r1","txt":"Non-survivors"},{"kind":"lab","col":"L","row":"r2","txt":"Survivors (uninfected)"},{"kind":"lab","col":"L","row":"r3","txt":"Survivors (seroconverted)"},
    {"kind":"hdr","col":"B","row":"h","txt":"NiV","sub":"B","s":"BS"},{"kind":"hdr","col":"M","row":"h","txt":"NiV","sub":"M","s":"MU"},
    {"kind":"note","col":"B","row":"n1","txt":"†NiV","sub":"B","rest":"necropsy"},{"kind":"note","col":"B","row":"n2","txt":"‡NiV","sub":"M","rest":"necropsy"}
   ]},
   "encoding":{
    "x":{"field":"col","type":"nominal","scale":{"type":"point","domain":["B","M","L"],"padding":1.4},"axis":null},
    "y":{"field":"row","type":"nominal","scale":{"type":"point","domain":["h","r1","r2","r3","g","n1","n2"],"range":[16,83],"padding":0},"axis":null}
   },
   "layer":[
    {"transform":[{"filter":"datum.kind==='sym'"}],"mark":{"type":"rule","xOffset":-10,"x2Offset":10,"strokeWidth":1.2},
     "encoding":{"x2":{"field":"col"},
      "color":{"field":"s","type":"nominal","scale":{"domain":["BN","BS","MN","MU","MQ"],"range":["#3b7dd8","#3ea6ee","#e0652b","#f5921e","#f8a24a"]},"legend":null},
      "strokeDash":{"field":"s","type":"nominal","scale":{"domain":["BN","BS","MN","MU","MQ"],"range":[[3,2],[1,0],[3,2],[1,0],[1,0]]},"legend":null}}},
    {"transform":[{"filter":"datum.kind==='sym'"}],"mark":"point",
     "encoding":{"color":{"field":"s","type":"nominal","scale":{"domain":["BN","BS","MN","MU","MQ"],"range":["#3b7dd8","#3ea6ee","#e0652b","#f5921e","#f8a24a"]},"legend":null},
      "shape":{"field":"s","type":"nominal","scale":{"domain":["BN","BS","MN","MU","MQ"],"range":["triangle-up","circle","triangle-up","circle","square"]},"legend":null}}},
    {"transform":[{"filter":"datum.kind==='lab'"}],"mark":{"type":"text","align":"left","dx":-8,"fontSize":11,"color":"#333"},"encoding":{"text":{"field":"txt"}}},
    {"transform":[{"filter":"datum.kind==='hdr'"}],"mark":{"type":"text","align":"left","dx":-11,"fontSize":11},
     "encoding":{"text":{"field":"txt"},"color":{"field":"s","type":"nominal","scale":{"domain":["BN","BS","MN","MU","MQ"],"range":["#3b7dd8","#3ea6ee","#e0652b","#f5921e","#f8a24a"]},"legend":null}}},
    {"transform":[{"filter":"datum.kind==='hdr'"}],"mark":{"type":"text","align":"left","dx":7,"dy":3,"fontSize":7},
     "encoding":{"text":{"field":"sub"},"color":{"field":"s","type":"nominal","scale":{"domain":["BN","BS","MN","MU","MQ"],"range":["#3b7dd8","#3ea6ee","#e0652b","#f5921e","#f8a24a"]},"legend":null}}},
    {"transform":[{"filter":"datum.kind==='note'"}],"mark":{"type":"text","align":"left","dx":-11,"fontSize":11,"color":"#333"},"encoding":{"text":{"field":"txt"}}},
    {"transform":[{"filter":"datum.kind==='note'"}],"mark":{"type":"text","align":"left","dx":13,"dy":3,"fontSize":7,"color":"#333"},"encoding":{"text":{"field":"sub"}}},
    {"transform":[{"filter":"datum.kind==='note'"}],"mark":{"type":"text","align":"left","dx":22,"fontSize":11,"color":"#333"},"encoding":{"text":{"field":"rest"}}}
   ]}
 ],"spacing":23},
 {"hconcat":[
  {"width":1,"height":150,"data":{"values":[{}]},"title":{"text":"B","anchor":"start","frame":"bounds","fontWeight":"bold","fontSize":12,"color":"#111","offset":2},"mark":{"type":"point","opacity":0},"encoding":{"y":{"datum":0,"type":"quantitative","scale":{"domain":[0,1]},"axis":{"title":"Immune cell phenotyping by flow","labels":false,"ticks":false,"domainColor":"#999","domainWidth":1.5,"titleFontSize":10.5,"titlePadding":4}}}},
  {"hconcat":[
   {"title":"CD4⁺ T cells","width":137,"height":98,"transform":[{"filter":"datum.c==='CD4'"}],
    "encoding":{"x":{"field":"t","type":"ordinal","sort":["BL","D3","D6","D9/10","†D8–14","Week 2","‡D16/17/20","Week 3","Week 4","Week 5","Week 6","Week 7","Week 8"],"scale":{"padding":0.2},"axis":{"title":null}},
     "y":{"field":"v","type":"quantitative","scale":{"domain":[0,3000],"nice":false},"axis":{"values":[0,500,1000,1500,2000,2500,3000],"format":",.0f","title":"Counts/µL of blood"}},
     "color":{"field":"s","type":"nominal","scale":{"domain":["BN","BS","MN","MU","MQ"],"range":["#3b7dd8","#3ea6ee","#e0652b","#f5921e","#f8a24a"]},"legend":null}},
    "layer":[{"mark":"line","encoding":{"strokeDash":{"field":"s","type":"nominal","scale":{"domain":["BN","BS","MN","MU","MQ"],"range":[[3,2],[1,0],[3,2],[1,0],[1,0]]},"legend":null}}},
             {"mark":"point","encoding":{"shape":{"field":"s","type":"nominal","scale":{"domain":["BN","BS","MN","MU","MQ"],"range":["triangle-up","circle","triangle-up","circle","square"]},"legend":null}}}]},
   {"title":"CD8⁺ T cells","width":127,"height":98,"transform":[{"filter":"datum.c==='CD8'"}],
    "encoding":{"x":{"field":"t","type":"ordinal","sort":["BL","D3","D6","D9/10","†D8–14","Week 2","‡D16/17/20","Week 3","Week 4","Week 5","Week 6","Week 7","Week 8"],"scale":{"padding":0.2},"axis":{"title":null}},
     "y":{"field":"v","type":"quantitative","scale":{"domain":[1000,7000],"nice":false,"zero":false},"axis":{"values":[1000,3000,5000,7000],"format":",.0f","title":"Counts/µL of blood"}},
     "color":{"field":"s","type":"nominal","scale":{"domain":["BN","BS","MN","MU","MQ"],"range":["#3b7dd8","#3ea6ee","#e0652b","#f5921e","#f8a24a"]},"legend":null}},
    "layer":[{"mark":"line","encoding":{"strokeDash":{"field":"s","type":"nominal","scale":{"domain":["BN","BS","MN","MU","MQ"],"range":[[3,2],[1,0],[3,2],[1,0],[1,0]]},"legend":null}}},
             {"mark":"point","encoding":{"shape":{"field":"s","type":"nominal","scale":{"domain":["BN","BS","MN","MU","MQ"],"range":["triangle-up","circle","triangle-up","circle","square"]},"legend":null}}}]},
   {"title":"CD20⁺ B cells","width":139,"height":98,"transform":[{"filter":"datum.c==='CD20'"}],
    "encoding":{"x":{"field":"t","type":"ordinal","sort":["BL","D3","D6","D9/10","†D8–14","Week 2","‡D16/17/20","Week 3","Week 4","Week 5","Week 6","Week 7","Week 8"],"scale":{"padding":0.2},"axis":{"title":null}},
     "y":{"field":"v","type":"quantitative","scale":{"domain":[0,600],"nice":false},"axis":{"values":[0,200,400,600],"title":"Counts/µL of blood"}},
     "color":{"field":"s","type":"nominal","scale":{"domain":["BN","BS","MN","MU","MQ"],"range":["#3b7dd8","#3ea6ee","#e0652b","#f5921e","#f8a24a"]},"legend":null}},
    "layer":[{"mark":"line","encoding":{"strokeDash":{"field":"s","type":"nominal","scale":{"domain":["BN","BS","MN","MU","MQ"],"range":[[3,2],[1,0],[3,2],[1,0],[1,0]]},"legend":null}}},
             {"mark":"point","encoding":{"shape":{"field":"s","type":"nominal","scale":{"domain":["BN","BS","MN","MU","MQ"],"range":["triangle-up","circle","triangle-up","circle","square"]},"legend":null}}}]},
   {"title":"NK cells","width":140,"height":98,"transform":[{"filter":"datum.c==='NK'"}],
    "encoding":{"x":{"field":"t","type":"ordinal","sort":["BL","D3","D6","D9/10","†D8–14","Week 2","‡D16/17/20","Week 3","Week 4","Week 5","Week 6","Week 7","Week 8"],"scale":{"padding":0.2},"axis":{"title":null}},
     "y":{"field":"v","type":"quantitative","scale":{"domain":[0,1000],"nice":false},"axis":{"values":[0,200,400,600,800,1000],"format":",.0f","title":"Counts/µL of blood"}},
     "color":{"field":"s","type":"nominal","scale":{"domain":["BN","BS","MN","MU","MQ"],"range":["#3b7dd8","#3ea6ee","#e0652b","#f5921e","#f8a24a"]},"legend":null}},
    "layer":[{"mark":"line","encoding":{"strokeDash":{"field":"s","type":"nominal","scale":{"domain":["BN","BS","MN","MU","MQ"],"range":[[3,2],[1,0],[3,2],[1,0],[1,0]]},"legend":null}}},
             {"mark":"point","encoding":{"shape":{"field":"s","type":"nominal","scale":{"domain":["BN","BS","MN","MU","MQ"],"range":["triangle-up","circle","triangle-up","circle","square"]},"legend":null}}}]}
  ],"spacing":8}
 ],"spacing":0},
 {"hconcat":[
  {"width":5,"height":495,"data":{"values":[{}]},"title":{"text":"C","anchor":"start","frame":"bounds","fontWeight":"bold","fontSize":12,"color":"#111","offset":-10},"mark":{"type":"point","opacity":0},"encoding":{"y":{"datum":0,"type":"quantitative","scale":{"domain":[0,1]},"axis":{"title":"Cytokine response","labels":false,"ticks":false,"domainColor":"#999","domainWidth":1.5,"titleFontSize":10.5,"titlePadding":4}}}},
  {"vconcat":[
   {"hconcat":[
    {"title":"IL-1ra","width":137,"height":98,"transform":[{"filter":"datum.c==='IL1ra'"}],
     "encoding":{"x":{"field":"t","type":"ordinal","sort":["BL","D3","D6","D9/10","†D8–14","Week 2","‡D16/17/20","Week 3","Week 4","Week 5","Week 6","Week 7","Week 8"],"scale":{"padding":0.2},"axis":{"title":null}},
      "y":{"field":"v","type":"quantitative","scale":{"domain":[0,5000],"nice":false},"axis":{"values":[0,1000,2000,3000,4000,5000],"format":",.0f","title":"pg/mL"}},
      "color":{"field":"s","type":"nominal","scale":{"domain":["BN","BS","MN","MU","MQ"],"range":["#3b7dd8","#3ea6ee","#e0652b","#f5921e","#f8a24a"]},"legend":null}},
     "layer":[{"mark":"line","encoding":{"strokeDash":{"field":"s","type":"nominal","scale":{"domain":["BN","BS","MN","MU","MQ"],"range":[[3,2],[1,0],[3,2],[1,0],[1,0]]},"legend":null}}},
              {"mark":"point","encoding":{"shape":{"field":"s","type":"nominal","scale":{"domain":["BN","BS","MN","MU","MQ"],"range":["triangle-up","circle","triangle-up","circle","square"]},"legend":null}}}]},
    {"title":"IL-1b","width":140,"height":98,"transform":[{"filter":"datum.c==='IL1b'"}],
     "encoding":{"x":{"field":"t","type":"ordinal","sort":["BL","D3","D6","D9/10","†D8–14","Week 2","‡D16/17/20","Week 3","Week 4","Week 5","Week 6","Week 7","Week 8"],"scale":{"padding":0.2},"axis":{"title":null}},
      "y":{"field":"v","type":"quantitative","scale":{"domain":[0,3],"nice":false},"axis":{"values":[0,1,2,3],"title":"pg/mL"}},
      "color":{"field":"s","type":"nominal","scale":{"domain":["BN","BS","MN","MU","MQ"],"range":["#3b7dd8","#3ea6ee","#e0652b","#f5921e","#f8a24a"]},"legend":null}},
     "layer":[{"mark":"line","encoding":{"strokeDash":{"field":"s","type":"nominal","scale":{"domain":["BN","BS","MN","MU","MQ"],"range":[[3,2],[1,0],[3,2],[1,0],[1,0]]},"legend":null}}},
              {"mark":"point","encoding":{"shape":{"field":"s","type":"nominal","scale":{"domain":["BN","BS","MN","MU","MQ"],"range":["triangle-up","circle","triangle-up","circle","square"]},"legend":null}}}]},
    {"title":"IL-6","width":132,"height":98,"transform":[{"filter":"datum.c==='IL6'"}],
     "encoding":{"x":{"field":"t","type":"ordinal","sort":["BL","D3","D6","D9/10","†D8–14","Week 2","‡D16/17/20","Week 3","Week 4","Week 5","Week 6","Week 7","Week 8"],"scale":{"padding":0.2},"axis":{"title":null}},
      "y":{"field":"v","type":"quantitative","scale":{"domain":[0,600],"nice":false},"axis":{"values":[0,200,400,600],"title":"pg/mL"}},
      "color":{"field":"s","type":"nominal","scale":{"domain":["BN","BS","MN","MU","MQ"],"range":["#3b7dd8","#3ea6ee","#e0652b","#f5921e","#f8a24a"]},"legend":null}},
     "layer":[{"mark":"line","encoding":{"strokeDash":{"field":"s","type":"nominal","scale":{"domain":["BN","BS","MN","MU","MQ"],"range":[[3,2],[1,0],[3,2],[1,0],[1,0]]},"legend":null}}},
              {"mark":"point","encoding":{"shape":{"field":"s","type":"nominal","scale":{"domain":["BN","BS","MN","MU","MQ"],"range":["triangle-up","circle","triangle-up","circle","square"]},"legend":null}}}]},
    {"title":"IFN-γ","width":138,"height":98,"transform":[{"filter":"datum.c==='IFNg'"}],
     "encoding":{"x":{"field":"t","type":"ordinal","sort":["BL","D3","D6","D9/10","†D8–14","Week 2","‡D16/17/20","Week 3","Week 4","Week 5","Week 6","Week 7","Week 8"],"scale":{"padding":0.2},"axis":{"title":null}},
      "y":{"field":"v","type":"quantitative","scale":{"domain":[0,500],"nice":false},"axis":{"values":[0,100,200,300,400,500],"title":"pg/mL"}},
      "color":{"field":"s","type":"nominal","scale":{"domain":["BN","BS","MN","MU","MQ"],"range":["#3b7dd8","#3ea6ee","#e0652b","#f5921e","#f8a24a"]},"legend":null}},
     "layer":[{"mark":"line","encoding":{"strokeDash":{"field":"s","type":"nominal","scale":{"domain":["BN","BS","MN","MU","MQ"],"range":[[3,2],[1,0],[3,2],[1,0],[1,0]]},"legend":null}}},
              {"mark":"point","encoding":{"shape":{"field":"s","type":"nominal","scale":{"domain":["BN","BS","MN","MU","MQ"],"range":["triangle-up","circle","triangle-up","circle","square"]},"legend":null}}}]}
   ],"spacing":8},
   {"hconcat":[
    {"title":"G-CSF","width":135,"height":98,"transform":[{"filter":"datum.c==='GCSF'"}],
     "encoding":{"x":{"field":"t","type":"ordinal","sort":["BL","D3","D6","D9/10","†D8–14","Week 2","‡D16/17/20","Week 3","Week 4","Week 5","Week 6","Week 7","Week 8"],"scale":{"padding":0.2},"axis":{"title":null}},
      "y":{"field":"v","type":"quantitative","scale":{"domain":[0,160],"nice":false},"axis":{"values":[0,40,80,120,160],"title":"pg/mL"}},
      "color":{"field":"s","type":"nominal","scale":{"domain":["BN","BS","MN","MU","MQ"],"range":["#3b7dd8","#3ea6ee","#e0652b","#f5921e","#f8a24a"]},"legend":null}},
     "layer":[{"mark":"line","encoding":{"strokeDash":{"field":"s","type":"nominal","scale":{"domain":["BN","BS","MN","MU","MQ"],"range":[[3,2],[1,0],[3,2],[1,0],[1,0]]},"legend":null}}},
              {"mark":"point","encoding":{"shape":{"field":"s","type":"nominal","scale":{"domain":["BN","BS","MN","MU","MQ"],"range":["triangle-up","circle","triangle-up","circle","square"]},"legend":null}}}]},
    {"title":"GM-CSF","width":133,"height":98,"transform":[{"filter":"datum.c==='GMCSF'"}],
     "encoding":{"x":{"field":"t","type":"ordinal","sort":["BL","D3","D6","D9/10","†D8–14","Week 2","‡D16/17/20","Week 3","Week 4","Week 5","Week 6","Week 7","Week 8"],"scale":{"padding":0.2},"axis":{"title":null}},
      "y":{"field":"v","type":"quantitative","scale":{"domain":[0,30],"nice":false},"axis":{"values":[0,10,20,30],"title":"pg/mL"}},
      "color":{"field":"s","type":"nominal","scale":{"domain":["BN","BS","MN","MU","MQ"],"range":["#3b7dd8","#3ea6ee","#e0652b","#f5921e","#f8a24a"]},"legend":null}},
     "layer":[{"mark":"line","encoding":{"strokeDash":{"field":"s","type":"nominal","scale":{"domain":["BN","BS","MN","MU","MQ"],"range":[[3,2],[1,0],[3,2],[1,0],[1,0]]},"legend":null}}},
              {"mark":"point","encoding":{"shape":{"field":"s","type":"nominal","scale":{"domain":["BN","BS","MN","MU","MQ"],"range":["triangle-up","circle","triangle-up","circle","square"]},"legend":null}}}]},
    {"title":"IL-15","width":138,"height":98,"transform":[{"filter":"datum.c==='IL15'"}],
     "encoding":{"x":{"field":"t","type":"ordinal","sort":["BL","D3","D6","D9/10","†D8–14","Week 2","‡D16/17/20","Week 3","Week 4","Week 5","Week 6","Week 7","Week 8"],"scale":{"padding":0.2},"axis":{"title":null}},
      "y":{"field":"v","type":"quantitative","scale":{"domain":[0,90],"nice":false},"axis":{"values":[0,30,60,90],"title":"pg/mL"}},
      "color":{"field":"s","type":"nominal","scale":{"domain":["BN","BS","MN","MU","MQ"],"range":["#3b7dd8","#3ea6ee","#e0652b","#f5921e","#f8a24a"]},"legend":null}},
     "layer":[{"mark":"line","encoding":{"strokeDash":{"field":"s","type":"nominal","scale":{"domain":["BN","BS","MN","MU","MQ"],"range":[[3,2],[1,0],[3,2],[1,0],[1,0]]},"legend":null}}},
              {"mark":"point","encoding":{"shape":{"field":"s","type":"nominal","scale":{"domain":["BN","BS","MN","MU","MQ"],"range":["triangle-up","circle","triangle-up","circle","square"]},"legend":null}}}]},
    {"title":"MCP-1","width":136,"height":98,"transform":[{"filter":"datum.c==='MCP1'"}],
     "encoding":{"x":{"field":"t","type":"ordinal","sort":["BL","D3","D6","D9/10","†D8–14","Week 2","‡D16/17/20","Week 3","Week 4","Week 5","Week 6","Week 7","Week 8"],"scale":{"padding":0.2},"axis":{"title":null}},
      "y":{"field":"v","type":"quantitative","scale":{"domain":[0,4000],"nice":false},"axis":{"values":[0,1000,2000,3000,4000],"format":",.0f","title":"pg/mL"}},
      "color":{"field":"s","type":"nominal","scale":{"domain":["BN","BS","MN","MU","MQ"],"range":["#3b7dd8","#3ea6ee","#e0652b","#f5921e","#f8a24a"]},"legend":null}},
     "layer":[{"mark":"line","encoding":{"strokeDash":{"field":"s","type":"nominal","scale":{"domain":["BN","BS","MN","MU","MQ"],"range":[[3,2],[1,0],[3,2],[1,0],[1,0]]},"legend":null}}},
              {"mark":"point","encoding":{"shape":{"field":"s","type":"nominal","scale":{"domain":["BN","BS","MN","MU","MQ"],"range":["triangle-up","circle","triangle-up","circle","square"]},"legend":null}}}]}
   ],"spacing":6},
   {"hconcat":[
    {"title":"MIP-1b","width":130,"height":98,"transform":[{"filter":"datum.c==='MIP1b'"}],
     "encoding":{"x":{"field":"t","type":"ordinal","sort":["BL","D3","D6","D9/10","†D8–14","Week 2","‡D16/17/20","Week 3","Week 4","Week 5","Week 6","Week 7","Week 8"],"scale":{"padding":0.2},"axis":{"title":"Time post-exposure"}},
      "y":{"field":"v","type":"quantitative","scale":{"domain":[0,80],"nice":false},"axis":{"values":[0,20,40,60,80],"title":"pg/mL"}},
      "color":{"field":"s","type":"nominal","scale":{"domain":["BN","BS","MN","MU","MQ"],"range":["#3b7dd8","#3ea6ee","#e0652b","#f5921e","#f8a24a"]},"legend":null}},
     "layer":[{"mark":"line","encoding":{"strokeDash":{"field":"s","type":"nominal","scale":{"domain":["BN","BS","MN","MU","MQ"],"range":[[3,2],[1,0],[3,2],[1,0],[1,0]]},"legend":null}}},
              {"mark":"point","encoding":{"shape":{"field":"s","type":"nominal","scale":{"domain":["BN","BS","MN","MU","MQ"],"range":["triangle-up","circle","triangle-up","circle","square"]},"legend":null}}}]},
    {"title":"IL-10","width":136,"height":98,"transform":[{"filter":"datum.c==='IL10'"}],
     "encoding":{"x":{"field":"t","type":"ordinal","sort":["BL","D3","D6","D9/10","†D8–14","Week 2","‡D16/17/20","Week 3","Week 4","Week 5","Week 6","Week 7","Week 8"],"scale":{"padding":0.2},"axis":{"title":"Time post-exposure"}},
      "y":{"field":"v","type":"quantitative","scale":{"domain":[0,3000],"nice":false},"axis":{"values":[0,1000,2000,3000],"format":",.0f","title":"pg/mL"}},
      "color":{"field":"s","type":"nominal","scale":{"domain":["BN","BS","MN","MU","MQ"],"range":["#3b7dd8","#3ea6ee","#e0652b","#f5921e","#f8a24a"]},"legend":null}},
     "layer":[{"mark":"line","encoding":{"strokeDash":{"field":"s","type":"nominal","scale":{"domain":["BN","BS","MN","MU","MQ"],"range":[[3,2],[1,0],[3,2],[1,0],[1,0]]},"legend":null}}},
              {"mark":"point","encoding":{"shape":{"field":"s","type":"nominal","scale":{"domain":["BN","BS","MN","MU","MQ"],"range":["triangle-up","circle","triangle-up","circle","square"]},"legend":null}}}]},
    {"title":"IL-2","width":134,"height":98,"transform":[{"filter":"datum.c==='IL2'"}],
     "encoding":{"x":{"field":"t","type":"ordinal","sort":["BL","D3","D6","D9/10","†D8–14","Week 2","‡D16/17/20","Week 3","Week 4","Week 5","Week 6","Week 7","Week 8"],"scale":{"padding":0.2},"axis":{"title":"Time post-exposure"}},
      "y":{"field":"v","type":"quantitative","scale":{"domain":[5,35],"nice":false,"zero":false},"axis":{"values":[5,15,25,35],"title":"pg/mL"}},
      "color":{"field":"s","type":"nominal","scale":{"domain":["BN","BS","MN","MU","MQ"],"range":["#3b7dd8","#3ea6ee","#e0652b","#f5921e","#f8a24a"]},"legend":null}},
     "layer":[{"mark":"line","encoding":{"strokeDash":{"field":"s","type":"nominal","scale":{"domain":["BN","BS","MN","MU","MQ"],"range":[[3,2],[1,0],[3,2],[1,0],[1,0]]},"legend":null}}},
              {"mark":"point","encoding":{"shape":{"field":"s","type":"nominal","scale":{"domain":["BN","BS","MN","MU","MQ"],"range":["triangle-up","circle","triangle-up","circle","square"]},"legend":null}}}]},
    {"width":200,"height":1,"data":{"values":[{}]},"title":{"text":"Time post-exposure","fontSize":10.5,"offset":8},"mark":{"type":"point","opacity":0},"encoding":{}}
   ],"spacing":4}
  ],"spacing":0}
 ],"spacing":2}
]
}
